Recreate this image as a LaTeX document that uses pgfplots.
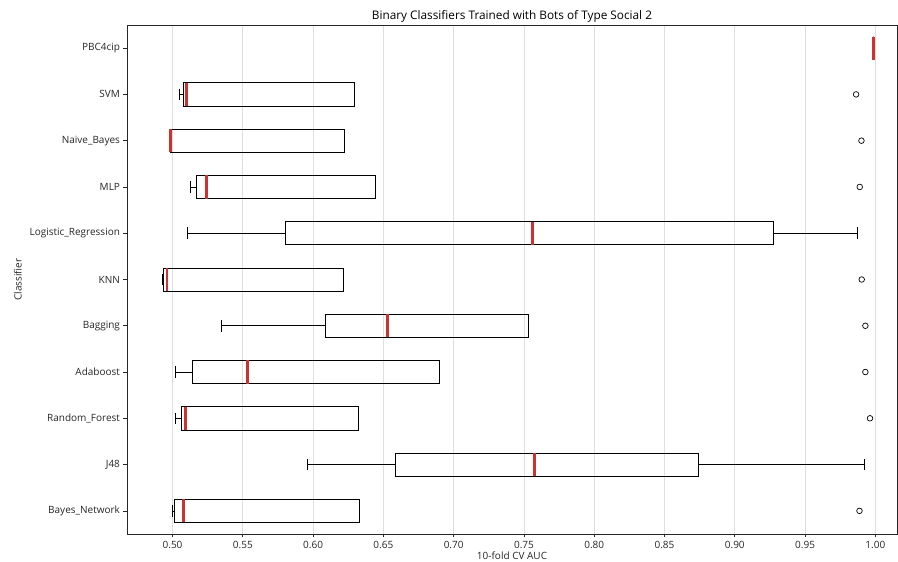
\documentclass[border=0pt]{standalone}
\usepackage{fontspec}
\setmainfont{Open Sans}
\usepackage{pgfplots}
\pgfplotsset{compat=1.18}
\usepgfplotslibrary{statistics}
\definecolor{medred}{RGB}{205,50,50}
\begin{document}
\begin{tikzpicture}
\begin{axis}[
  scale only axis, width=770pt, height=509pt,
  xmin=0.4676, xmax=1.0154, ymin=0.5, ymax=11.5,
  xtick={0.50,0.55,0.60,0.65,0.70,0.75,0.80,0.85,0.90,0.95,1.00},
  ytick={1,2,3,4,5,6,7,8,9,10,11},
  yticklabels={Bayes\_Network,J48,Random\_Forest,Adaboost,Bagging,KNN,Logistic\_Regression,MLP,Naive\_Bayes,SVM,PBC4cip},
  xmajorgrids, grid style={draw=black!13, line width=0.7pt},
  tick align=outside, tick pos=left,
  major tick length=3.5pt,
  tick style={black!85, line width=0.7pt},
  axis line style={line width=0.8pt, black!85},
  ticklabel style={font=\fontsize{10}{12}\selectfont, text=black!85},
  /pgf/number format/assume math mode=true,
  xticklabel style={yshift=-0.5pt, /pgf/number format/.cd, fixed, fixed zerofill, precision=2},
  title={Binary Classifiers Trained with Bots of Type Social 2},
  every axis title/.style={at={(0.5,1)}, anchor=base, yshift=5.7pt, font=\fontsize{11.8}{14}\selectfont},
  xlabel={10-fold CV AUC}, ylabel={Classifier},
  every axis x label/.style={at={(0.5,0)}, anchor=base, yshift=-26pt, font=\fontsize{10}{12}\selectfont, text=black!85},
  every axis y label/.style={at={(-0.137,0.5)}, anchor=base, rotate=90, font=\fontsize{10}{12}\selectfont, text=black!85},
  boxplot/draw direction=x,
  boxplot/box extend=0.5, boxplot/whisker extend=0.25,
  boxplot/every median/.style={draw=medred, line width=2.8pt},
]
\addplot[black, line width=0.7pt, boxplot prepared={draw position=1, lower whisker=0.5000, lower quartile=0.5014, median=0.5078, upper quartile=0.6330, upper whisker=0.6330}] coordinates {};
\addplot[black, line width=0.7pt, boxplot prepared={draw position=2, lower whisker=0.5956, lower quartile=0.6586, median=0.7577, upper quartile=0.8744, upper whisker=0.9925}] coordinates {};
\addplot[black, line width=0.7pt, boxplot prepared={draw position=3, lower whisker=0.5021, lower quartile=0.5060, median=0.5092, upper quartile=0.6323, upper whisker=0.6323}] coordinates {};
\addplot[black, line width=0.7pt, boxplot prepared={draw position=4, lower whisker=0.5019, lower quartile=0.5140, median=0.5531, upper quartile=0.6899, upper whisker=0.6899}] coordinates {};
\addplot[black, line width=0.7pt, boxplot prepared={draw position=5, lower whisker=0.5346, lower quartile=0.6084, median=0.6529, upper quartile=0.7532, upper whisker=0.7532}] coordinates {};
\addplot[black, line width=0.7pt, boxplot prepared={draw position=6, lower whisker=0.4929, lower quartile=0.4936, median=0.4960, upper quartile=0.6216, upper whisker=0.6216}] coordinates {};
\addplot[black, line width=0.7pt, boxplot prepared={draw position=7, lower whisker=0.5107, lower quartile=0.5804, median=0.7558, upper quartile=0.9275, upper whisker=0.9870}] coordinates {};
\addplot[black, line width=0.7pt, boxplot prepared={draw position=8, lower whisker=0.5128, lower quartile=0.5171, median=0.5240, upper quartile=0.6444, upper whisker=0.6444}] coordinates {};
\addplot[black, line width=0.7pt, boxplot prepared={draw position=9, lower whisker=0.4986, lower quartile=0.4986, median=0.4986, upper quartile=0.6223, upper whisker=0.6223}] coordinates {};
\addplot[black, line width=0.7pt, boxplot prepared={draw position=10, lower whisker=0.5046, lower quartile=0.5078, median=0.5100, upper quartile=0.6294, upper whisker=0.6294}] coordinates {};
\addplot[black, line width=0.7pt, boxplot prepared={draw position=11, lower whisker=0.9984, lower quartile=0.9984, median=0.9984, upper quartile=0.9984, upper whisker=0.9984}] coordinates {};
\addplot[only marks, mark=o, mark size=2.8pt, black, line width=0.7pt] coordinates {
  (0.9887,1) (0.9962,3) (0.9929,4) (0.9929,5) (0.9903,6) (0.9889,8) (0.9901,9) (0.9863,10)
};
\end{axis}
\pgfresetboundingbox
\useasboundingbox ([xshift=-127pt,yshift=-28pt]current axis.south west) rectangle ([xshift=1pt,yshift=25pt]current axis.north east);
\end{tikzpicture}
\end{document}
